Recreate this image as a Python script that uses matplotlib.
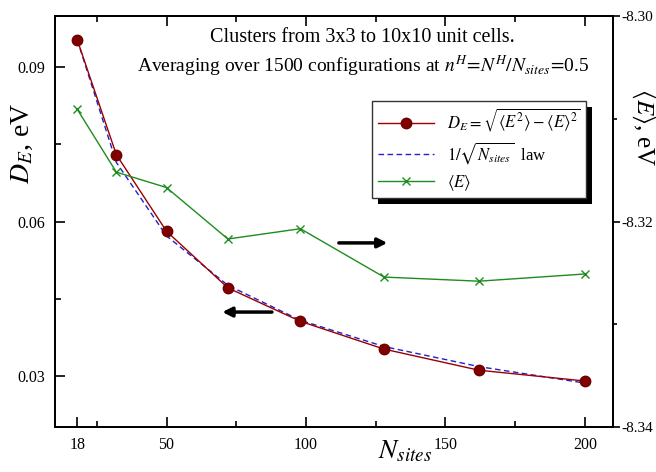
import matplotlib
matplotlib.use("Agg")
import matplotlib.pyplot as plt
from matplotlib.patches import Rectangle
from matplotlib.transforms import IdentityTransform
from matplotlib.ticker import FixedLocator

# ---- data ----
N_sites = [18, 32, 50, 72, 98, 128, 162, 200]
D_E = [0.0953, 0.0730, 0.0581, 0.0471, 0.0406, 0.0352, 0.0311, 0.0290]
law = [0.0953, 0.0715, 0.0572, 0.0476, 0.0408, 0.0357, 0.0318, 0.0286]
E_mean = [-8.3091, -8.3152, -8.3167, -8.3217, -8.3207, -8.3254, -8.3258, -8.3251]

x_major = [18, 50, 100, 150, 200]
x_minor = [25, 75, 125, 175]
top_major = [50, 100, 150, 200]
yl_major = [0.03, 0.06, 0.09]
yl_minor = [0.045, 0.075]
yr_major = [-8.34, -8.32, -8.30]
yr_minor = [-8.33, -8.31]

plt.rcParams['font.family'] = ['Liberation Serif', 'DejaVu Serif']
plt.rcParams['mathtext.fontset'] = 'stix'
plt.rcParams['axes.unicode_minus'] = False

fig = plt.figure(figsize=(6.56, 4.72), dpi=100)
ax = fig.add_axes([0.0838, 0.0947, 0.8502, 0.872])
ax2 = ax.twinx()

red_line = '#990000'
l1, = ax.plot(N_sites, D_E, color=red_line, lw=1.0, marker='o', ms=7.5,
              mfc='#800000', mec='#700000', zorder=3,
              label=r'$D_E=\sqrt{\langle E^2\rangle-\langle E\rangle^2}$')
l2, = ax.plot(N_sites, law, color='#2020cc', lw=1.0, ls=(0, (4, 2.5)), zorder=2,
              label=r'$1/\sqrt{N_{sites}}$  law')
l3, = ax2.plot(N_sites, E_mean, color='#1e8c1e', lw=1.0, marker='x', ms=5.5,
               mew=1.0, label=r'$\langle E\rangle$')

ax.set_xlim(10, 210)
ax.set_ylim(0.02, 0.10)
ax2.set_ylim(-8.34, -8.30)

for sp in ax.spines.values():
    sp.set_linewidth(1.3)
for sp in ax2.spines.values():
    sp.set_linewidth(1.3)

ax.xaxis.set_major_locator(FixedLocator(x_major))
ax.xaxis.set_minor_locator(FixedLocator(x_minor))
ax.set_xticklabels([str(v) for v in x_major])
ax.yaxis.set_major_locator(FixedLocator(yl_major))
ax.yaxis.set_minor_locator(FixedLocator(yl_minor))
ax.set_yticklabels(['%.2f' % v for v in yl_major])
ax.tick_params(axis='both', which='major', direction='in', length=7, width=1.2,
               labelsize=11.5, pad=7)
ax.tick_params(axis='both', which='minor', direction='in', length=4, width=1.2)
ax.tick_params(axis='x', top=False)

sec = ax.secondary_xaxis('top')
sec.xaxis.set_major_locator(FixedLocator(top_major))
sec.xaxis.set_minor_locator(FixedLocator(x_minor))
sec.tick_params(which='major', direction='in', length=7, width=1.2, labeltop=False)
sec.tick_params(which='minor', direction='in', length=4, width=1.2)
sec.spines['top'].set_linewidth(1.3)

ax2.yaxis.set_major_locator(FixedLocator(yr_major))
ax2.yaxis.set_minor_locator(FixedLocator(yr_minor))
ax2.set_yticklabels(['%.2f' % v for v in yr_major])
ax2.tick_params(axis='y', which='major', direction='out', length=5, width=1.2,
                labelsize=11, pad=1)
ax2.tick_params(axis='y', which='minor', direction='out', length=3, width=1.2)

# axis labels
ax.text(-0.058, 0.69, r'$D_E$, eV', transform=ax.transAxes, rotation=90,
        ha='center', va='center', fontsize=20)
ax2.text(1.055, 0.73, r'$\langle E\rangle$, eV', transform=ax.transAxes, rotation=270,
         ha='center', va='center', fontsize=18)
ax.text(0.627, -0.06, r'$N_{sites}$', transform=ax.transAxes,
        ha='center', va='center', fontsize=19.5)

# annotations
fig.text(0.553, 0.9216, 'Clusters from 3x3 to 10x10 unit cells.', ha='center',
         va='center', fontsize=14.5)
fig.text(0.553, 0.860,
         r'Averaging over 1500 configurations at $n^H\!=\!N^H/N_{sites}\!=\!$0.5',
         ha='center', va='center', fontsize=14)

# arrows
ax.annotate('', xy=(0.596, 0.448), xytext=(0.509, 0.448), xycoords='axes fraction',
            arrowprops=dict(arrowstyle='-|>', lw=2.5, color='black', mutation_scale=14,
                            shrinkA=0, shrinkB=0))
ax.annotate('', xy=(0.300, 0.280), xytext=(0.389, 0.280), xycoords='axes fraction',
            arrowprops=dict(arrowstyle='-|>', lw=2.5, color='black', mutation_scale=14,
                            shrinkA=0, shrinkB=0))

leg = ax2.legend(handles=[l1, l2, l3], loc='upper left', bbox_to_anchor=(0.568, 0.793),
                 borderaxespad=0, fancybox=False, framealpha=1, edgecolor='#333333',
                 fontsize=12, handlelength=3.4, handletextpad=0.75, labelspacing=0.4,
                 borderpad=0.35, numpoints=1)
leg.get_frame().set_linewidth(1.0)
leg.set_zorder(6)

fig.canvas.draw()
bb = leg.get_window_extent()
shadow = Rectangle((bb.x0 + 6, bb.y0 - 6), bb.width, bb.height, transform=IdentityTransform(),
                   facecolor='black', edgecolor='none', zorder=5.5)
ax2.add_artist(shadow)
shadow.set_clip_on(False)

fig.savefig('out.png', dpi=100)
